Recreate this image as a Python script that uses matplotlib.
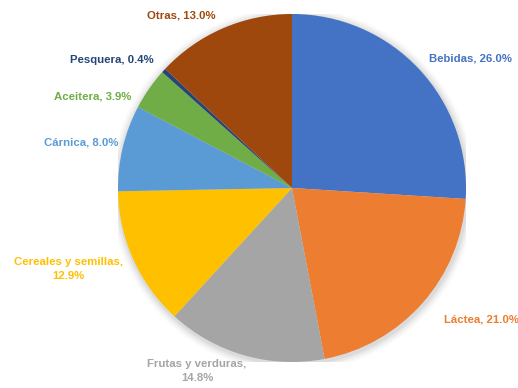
import numpy as np
import matplotlib
matplotlib.use("Agg")
import matplotlib.pyplot as plt
from matplotlib.patches import Circle

categories = ["Bebidas", "Láctea", "Frutas y verduras", "Cereales y semillas",
              "Cárnica", "Aceitera", "Pesquera", "Otras"]
values = [26.0, 21.0, 14.8, 12.9, 8.0, 3.9, 0.4, 13.0]
label_texts = ["Bebidas, 26.0%", "Láctea, 21.0%", "Frutas y verduras,\n14.8%",
               "Cereales y semillas,\n12.9%", "Cárnica, 8.0%", "Aceitera, 3.9%",
               "Pesquera, 0.4%", "Otras, 13.0%"]
colors = ["#4472C4", "#ED7D31", "#A5A5A5", "#FFC000",
          "#5B9BD5", "#70AD47", "#264478", "#9E480E"]
# label placement style: radial distance and angular shift (degrees) from wedge middle
label_dist = [1.267, 1.326, 1.185, 1.369, 1.24, 1.258, 1.269, 1.181]
label_shift = [-7.1, 6.8, -11.6, -4.4, 1.2, 10.1, 7.1, 9.3]

plt.rcParams['font.family'] = ['Liberation Sans', 'DejaVu Sans']

fig = plt.figure(figsize=(5.18, 3.88), dpi=100)
ax = fig.add_axes([118/518, 26/388, 348/518, 348/388])

# soft shadow
for k, a in enumerate([0.05, 0.04, 0.03, 0.02]):
    ax.add_patch(Circle((0.005, -0.01), 1.0 + 0.012*(k+1), color="black",
                        alpha=a, lw=0, zorder=0))

wedges, _ = ax.pie(values, colors=colors, startangle=90, counterclock=False,
                   radius=1.0, wedgeprops=dict(linewidth=0, zorder=1))

for w, txt, c, d, s in zip(wedges, label_texts, colors, label_dist, label_shift):
    mid = np.deg2rad((w.theta1 + w.theta2) / 2 + s)
    ax.text(d*np.cos(mid), d*np.sin(mid), txt, color=c, fontsize=8.2,
            fontweight="bold", ha="center", va="center", clip_on=False,
            linespacing=1.4)

ax.set_xlim(-1, 1)
ax.set_ylim(-1, 1)
ax.set_aspect("equal")
ax.axis("off")
fig.savefig("out.png", dpi=100)
